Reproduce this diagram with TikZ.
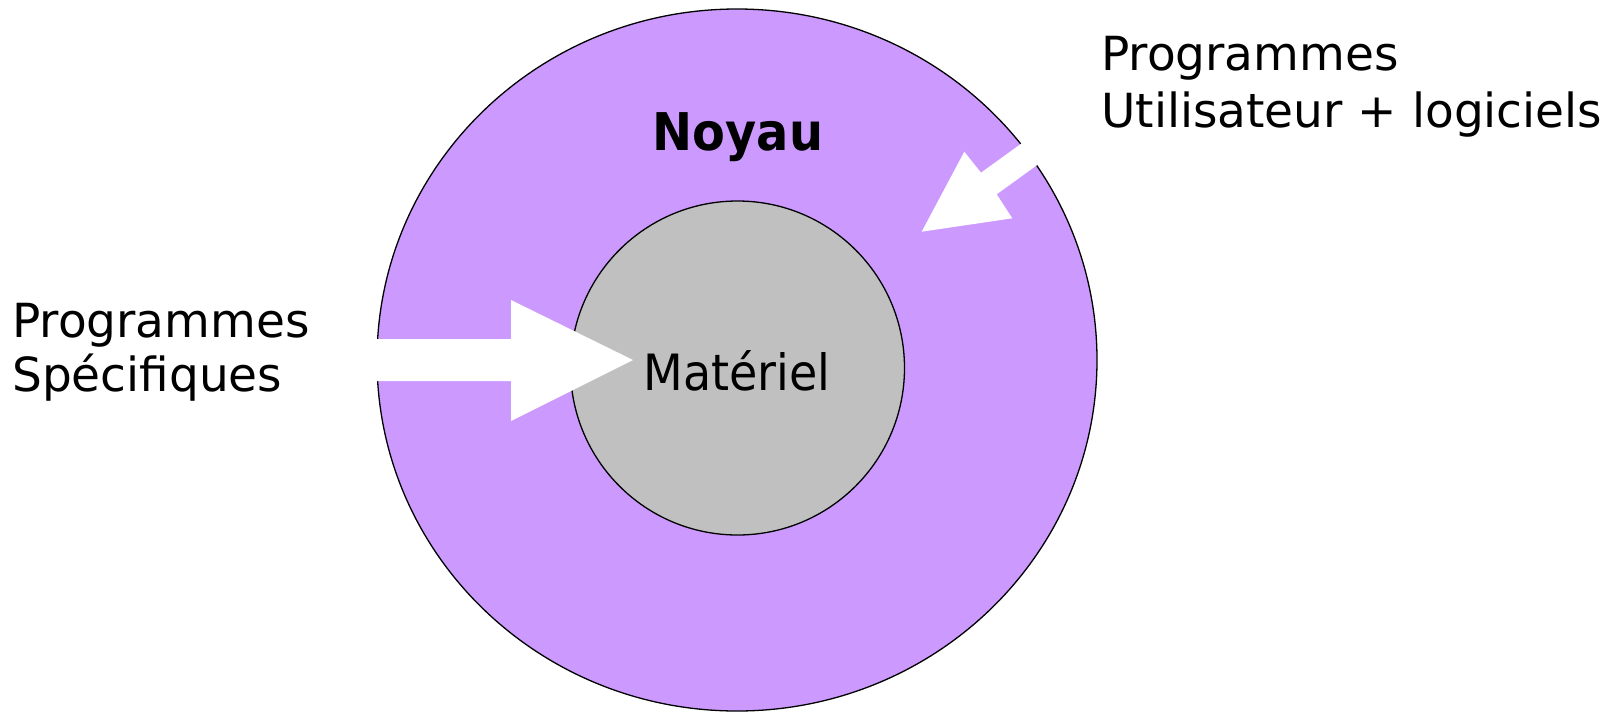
\documentclass[tikz,border=0pt]{standalone}
\usepackage{fontspec}
\setmainfont{DejaVu Sans}
\newfontfamily\condfont[FakeStretch=0.92]{DejaVu Sans}
\definecolor{noyaucol}{HTML}{CC99FF}
\definecolor{matcol}{HTML}{C0C0C0}
\tikzset{
  ring/.style={draw=black, line width=1.3pt},
  bigarrow/.style={fill=white, draw=none},
  sidelabel/.style={inner sep=0pt, anchor=base west, font=\fontsize{47}{56}\selectfont},
}
\begin{document}
\begin{tikzpicture}[x=1pt, y=-1pt]
\useasboundingbox (0,0) rectangle (1612,713);

% layers
\draw[ring, fill=noyaucol] (737,360) ellipse [x radius=360, y radius=351];
\draw[ring, fill=matcol] (737.5,368) circle [radius=167];

% block arrows pointing inwards
\fill[bigarrow] (365,339) -- (511,339) -- (511,300) -- (633,360)
  -- (511,421) -- (511,381) -- (365,381) -- cycle;
\fill[bigarrow] (921.7,231.7) -- (964.3,151.7) -- (981,172.7) -- (1045,126.4)
  -- (1060.7,148) -- (996.7,194.3) -- (1012.3,218.3) -- cycle;

% labels
\node[inner sep=0pt, anchor=base, font=\condfont\bfseries\fontsize{52}{60}\selectfont] (noyau) at (738,150) {Noyau};
\node[inner sep=0pt, anchor=base, font=\condfont\fontsize{50}{60}\selectfont] (materiel) at (737,390) {Matériel};

\node[sidelabel] (lp1) at (12,337) {Programmes};
\node[sidelabel] (lp2) at (12,391) {Spécifiques};
\node[sidelabel] (rp1) at (1101,70) {Programmes};
\node[sidelabel] (rp2) at (1101,127) {Utilisateur + logiciels};
\end{tikzpicture}
\end{document}
